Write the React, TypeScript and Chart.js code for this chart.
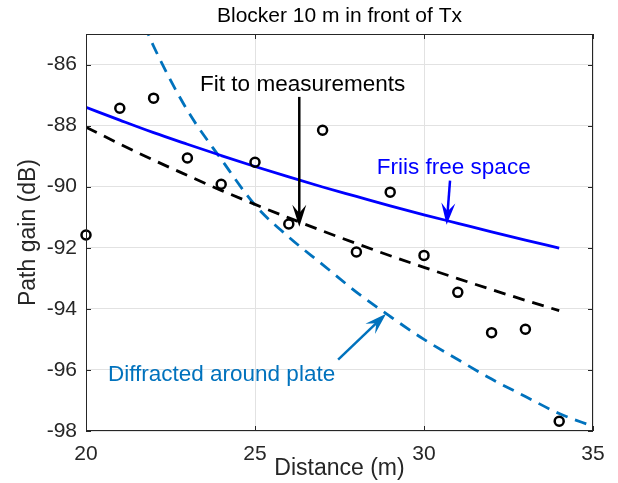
import React, { useEffect, useRef } from 'react';
import { Chart, registerables } from 'chart.js';

Chart.register(...registerables);

// ---- Data ----
const distances = [20, 21, 22, 23, 24, 25, 26, 27, 28, 29, 30, 31, 32, 33, 34];
const measured = [-91.58, -87.43, -87.1, -89.06, -89.92, -89.2, -91.22, -88.15, -92.14, -90.18, -92.25, -93.46, -94.78, -94.67, -97.68];
const friis = [-87.4, -87.82, -88.23, -88.61, -88.98, -89.34, -89.68, -90.01, -90.32, -90.63, -90.92, -91.2, -91.48, -91.75, -92.01];
const fitLine = [-88.05, -88.6, -89.13, -89.63, -90.12, -90.58, -91.02, -91.45, -91.86, -92.26, -92.64, -93.01, -93.37, -93.72, -94.06];
const diffDistances = [21, 21.5, 22, 23, 24, 25, 26, 27, 28, 29, 30, 31, 32, 33, 34, 35];
const diffracted = [-82.9, -84.1, -85.4, -87.5, -89.1, -90.6, -91.65, -92.55, -93.45, -94.25, -95.0, -95.66, -96.3, -96.87, -97.43, -97.85];
const xTicks = [20, 25, 30, 35];
const yTicks = [-98, -96, -94, -92, -90, -88, -86];

const FONT = "'Liberation Sans', Arial, Helvetica, sans-serif";
const AXIS_COLOR = '#262626';

function drawArrow(ctx: CanvasRenderingContext2D, x1: number, y1: number, x2: number, y2: number, color: string, lw: number) {
  const ang = Math.atan2(y2 - y1, x2 - x1);
  const L = 22;
  const W = 7;
  const c = Math.cos(ang);
  const s = Math.sin(ang);
  ctx.strokeStyle = color;
  ctx.fillStyle = color;
  ctx.lineWidth = lw;
  ctx.beginPath();
  ctx.moveTo(x1, y1);
  ctx.lineTo(x2 - c * L * 0.6, y2 - s * L * 0.6);
  ctx.stroke();
  const bx = x2 - c * L;
  const by = y2 - s * L;
  const px = -s;
  const py = c;
  const nx = x2 - c * L * 0.62;
  const ny = y2 - s * L * 0.62;
  ctx.beginPath();
  ctx.moveTo(x2, y2);
  ctx.lineTo(bx + px * W, by + py * W);
  ctx.lineTo(nx, ny);
  ctx.lineTo(bx - px * W, by - py * W);
  ctx.closePath();
  ctx.fill();
}

const framePlugin = {
  id: 'frameAndNotes',
  afterDraw(chart: any) {
    const { ctx, chartArea: a, scales } = chart;
    const xs = scales.x;
    const ys = scales.y;
    ctx.save();
    // box
    ctx.strokeStyle = AXIS_COLOR;
    ctx.lineWidth = 1;
    ctx.strokeRect(Math.round(a.left) + 0.5, Math.round(a.top) + 0.5, Math.round(a.right - a.left) - 1, Math.round(a.bottom - a.top) - 1);
    // inward ticks
    const tl = 5;
    ctx.beginPath();
    yTicks.forEach((v) => {
      const py = Math.round(ys.getPixelForValue(v)) + 0.5;
      ctx.moveTo(a.left, py);
      ctx.lineTo(a.left + tl, py);
      ctx.moveTo(a.right, py);
      ctx.lineTo(a.right - tl, py);
    });
    xTicks.forEach((v) => {
      const px = Math.round(xs.getPixelForValue(v)) + 0.5;
      ctx.moveTo(px, a.bottom);
      ctx.lineTo(px, a.bottom - tl);
      ctx.moveTo(px, a.top);
      ctx.lineTo(px, a.top + tl);
    });
    ctx.stroke();

    // annotations
    const P = (x: number, y: number) => [xs.getPixelForValue(x), ys.getPixelForValue(y)];
    ctx.font = `22.5px ${FONT}`;
    ctx.textAlign = 'center';
    ctx.textBaseline = 'middle';

    // Fit to measurements
    ctx.fillStyle = '#000000';
    let t = P(26.41, -86.66);
    ctx.fillText('Fit to measurements', t[0], t[1]);
    let s1 = P(26.31, -87.06);
    let e1 = P(26.31, -91.31);
    drawArrow(ctx, s1[0], s1[1], e1[0], e1[1], '#000000', 2.5);

    // Friis free space
    ctx.fillStyle = '#0000ff';
    t = P(30.88, -89.39);
    ctx.fillText('Friis free space', t[0], t[1]);
    s1 = P(30.77, -89.8);
    e1 = P(30.67, -91.25);
    drawArrow(ctx, s1[0], s1[1], e1[0], e1[1], '#0000ff', 2.5);

    // Diffracted around plate
    ctx.fillStyle = '#0072bd';
    t = P(24.01, -96.15);
    ctx.fillText('Diffracted around plate', t[0], t[1]);
    s1 = P(27.46, -95.66);
    e1 = P(28.88, -94.16);
    drawArrow(ctx, s1[0], s1[1], e1[0], e1[1], '#0072bd', 2.5);

    ctx.restore();
  },
};

export default function App() {
  const ref = useRef<HTMLCanvasElement>(null);
  useEffect(() => {
    document.body.style.margin = '0';
    const canvas = ref.current!;
    const chart = new Chart(canvas, {
      type: 'line',
      data: {
        datasets: [
          {
            label: 'Measurements',
            data: distances.map((d, i) => ({ x: d, y: measured[i] })),
            showLine: false,
            clip: false,
            pointRadius: 4.5,
            pointBorderWidth: 2.5,
            pointBorderColor: '#000000',
            pointBackgroundColor: 'rgba(0,0,0,0)',
            borderColor: '#000000',
          },
          {
            label: 'Friis free space',
            data: distances.map((d, i) => ({ x: d, y: friis[i] })),
            borderColor: '#0000ff',
            borderWidth: 2.8,
            pointRadius: 0,
            cubicInterpolationMode: 'monotone',
          },
          {
            label: 'Fit to measurements',
            data: distances.map((d, i) => ({ x: d, y: fitLine[i] })),
            borderColor: '#000000',
            borderWidth: 2.8,
            borderDash: [12, 8],
            pointRadius: 0,
            cubicInterpolationMode: 'monotone',
          },
          {
            label: 'Diffracted around plate',
            data: diffDistances.map((d, i) => ({ x: d, y: diffracted[i] })),
            borderColor: '#0072bd',
            borderWidth: 2.8,
            borderDash: [12, 8],
            pointRadius: 0,
            cubicInterpolationMode: 'monotone',
          },
        ],
      },
      options: {
        responsive: false,
        animation: false,
        events: [],
        layout: { padding: { left: 0, right: 25, top: 0, bottom: 0 } },
        plugins: {
          legend: { display: false },
          tooltip: { enabled: false },
          title: {
            display: true,
            text: 'Blocker 10 m in front of Tx',
            fullSize: false,
            color: '#000000',
            font: { family: FONT, size: 21, weight: 'normal' },
            padding: { top: 3.9, bottom: 4.9 },
          },
        },
        scales: {
          x: {
            type: 'linear',
            min: 20,
            max: 35,
            afterBuildTicks: (s: any) => {
              s.ticks = xTicks.map((v) => ({ value: v }));
            },
            afterFit: (s: any) => {
              s.height = 52;
            },
            grid: { color: '#e2e2e2', drawTicks: false },
            border: { display: false },
            ticks: {
              padding: 11,
              color: AXIS_COLOR,
              font: { family: FONT, size: 21 },
              maxRotation: 0,
              autoSkip: false,
            },
            title: {
              display: true,
              text: 'Distance (m)',
              color: AXIS_COLOR,
              font: { family: FONT, size: 23 },
              padding: { top: 0, bottom: 1 },
            },
          },
          y: {
            type: 'linear',
            min: -98,
            max: -85,
            afterBuildTicks: (s: any) => {
              s.ticks = yTicks.map((v) => ({ value: v }));
            },
            afterFit: (s: any) => {
              s.width = 86;
            },
            grid: { color: '#e2e2e2', drawTicks: false },
            border: { display: false },
            ticks: {
              padding: 9,
              color: AXIS_COLOR,
              font: { family: FONT, size: 21 },
              autoSkip: false,
            },
            title: {
              display: true,
              text: 'Path gain (dB)',
              color: AXIS_COLOR,
              font: { family: FONT, size: 23 },
              padding: { top: 15, bottom: 0 },
            },
          },
        },
      } as any,
      plugins: [framePlugin],
    });
    return () => chart.destroy();
  }, []);
  return (
    <div style={{ width: 618, height: 483 }}>
      <canvas ref={ref} width={618} height={483} style={{ display: 'block' }} />
    </div>
  );
}
